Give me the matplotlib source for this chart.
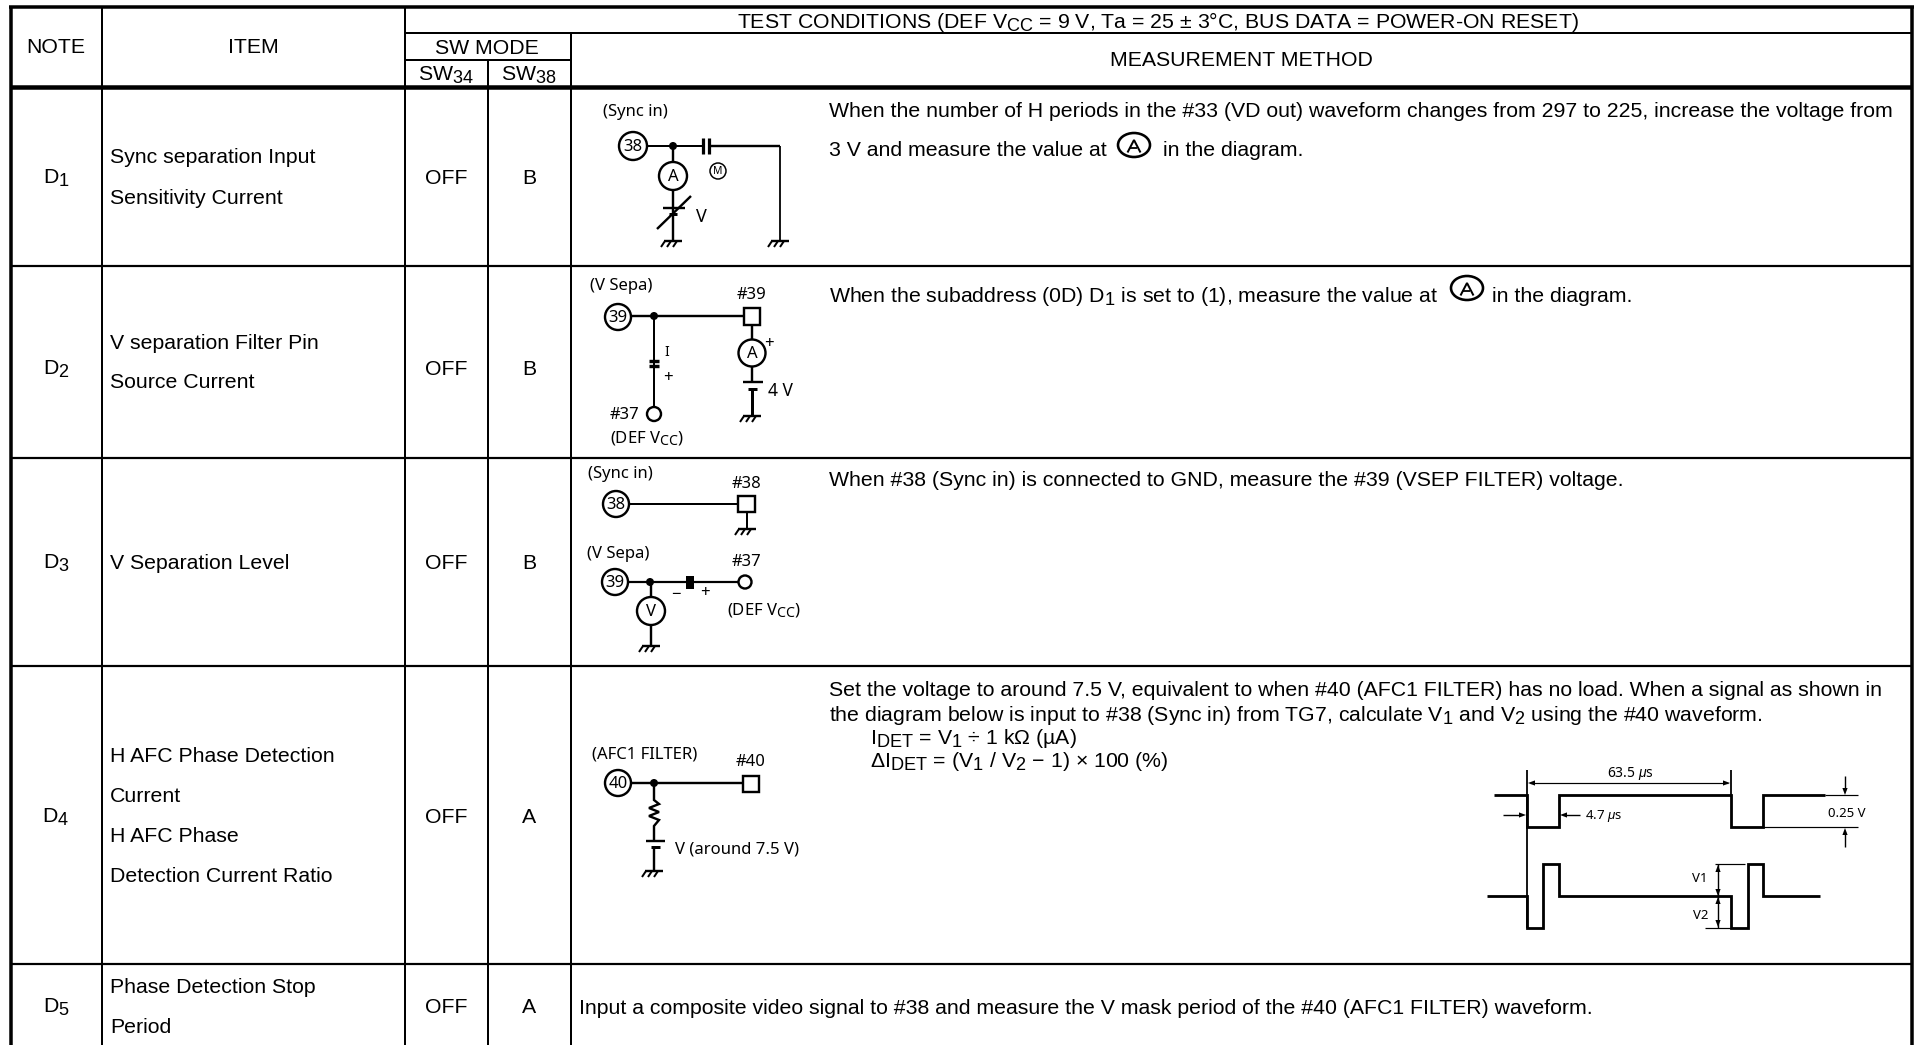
import matplotlib
matplotlib.use("Agg")
import matplotlib.pyplot as plt
from matplotlib.patches import Circle, Rectangle, Polygon, Ellipse
import matplotlib._mathtext as _mt

plt.rcParams['font.family'] = ['Liberation Sans', 'DejaVu Sans']
plt.rcParams['mathtext.fontset'] = 'custom'
plt.rcParams['mathtext.rm'] = 'Liberation Sans'
plt.rcParams['mathtext.it'] = 'Liberation Sans:italic'
plt.rcParams['mathtext.bf'] = 'Liberation Sans'
plt.rcParams['mathtext.default'] = 'regular'
_mt.SHRINK_FACTOR = 0.85   # the page sets its subscripts large
_mt.FontConstantsBase.subdrop = 0.65   # and low

# ---- table content ----
notes = ["D$_{1}$", "D$_{2}$", "D$_{3}$", "D$_{4}$", "D$_{5}$"]
items = [["Sync separation Input", "Sensitivity Current"],
         ["V separation Filter Pin", "Source Current"],
         ["V Separation Level"],
         ["H AFC Phase Detection", "Current", "H AFC Phase", "Detection Current Ratio"],
         ["Phase Detection Stop", "Period"]]
sw34 = ["OFF", "OFF", "OFF", "OFF", "OFF"]
sw38 = ["B", "B", "B", "A", "A"]
title = "TEST CONDITIONS (DEF V$_{CC}$ = 9 V, Ta = 25 ± 3°C, BUS DATA = POWER-ON RESET)"

# ---- layout (pixels of the page) ----
col_x = [11, 102, 405, 488, 571, 1912]
row_y = [7, 33, 60, 87, 266, 458, 666, 964, 1045]
row_mid = [177, 368, 562, 816, 1006]
item_y = [[156, 197], [342, 381], [562], [755, 795, 835, 875], [986, 1026]]

W, H = 1916, 1045
fig = plt.figure(figsize=(W / 100, H / 100), dpi=100, facecolor='white')
ax = fig.add_axes([0, 0, 1, 1])
ax.set_xlim(0, W)
ax.set_ylim(H, 0)
ax.axis('off')

FS = 15.33


def px(w):
    return w * 0.72


def ln(xs, ys, w=2.0, color='black', cap='butt', join='miter'):
    ax.plot(xs, ys, color=color, lw=px(w), solid_capstyle=cap, solid_joinstyle=join, zorder=3)


def txt(x, y, s, ha='left', fs=FS, family=None):
    kw = {}
    if family:
        kw['family'] = family
    ax.text(x, y + 0.45 * fs, s, ha=ha, va='baseline', fontsize=fs, color='black', zorder=5, **kw)


def ring(x, y, r, label=None, w=2.4, fs=12):
    ax.add_patch(Circle((x, y), r, fc='white', ec='black', lw=px(w), zorder=4))
    if label:
        txt(x, y, label, ha='center', fs=fs, family='Noto Sans')


def dot(x, y, r=3.5):
    ax.add_patch(Circle((x, y), r, fc='black', ec='none', zorder=4))


def ground(x, y):
    ln([x - 9, x + 9], [y, y], 2.4)
    for dx in (-8, -2, 4):
        ln([x + dx, x + dx - 4], [y, y + 6], 2)


def square(x0, y0, x1, y1):
    ax.add_patch(Rectangle((x0, y0), x1 - x0, y1 - y0, fc='white', ec='black', lw=px(2.4), zorder=4))


def arrow(x, y, dx, dy, size=7, half=2.6):
    """Solid arrow head with its tip at x, y, pointing along dx, dy."""
    ax.add_patch(Polygon([(x, y), (x - dx * size - dy * half, y - dy * size - dx * half),
                          (x - dx * size + dy * half, y - dy * size + dx * half)],
                         fc='black', ec='none', zorder=4))


def ctext(x, y, s, ha='left', fs=12):
    txt(x, y, s, ha=ha, fs=fs, family='Noto Sans')


def circled_a(x, y):
    ax.add_patch(Ellipse((x, y), 32, 24, fc='none', ec='black', lw=px(2.6), zorder=4))
    ln([x - 6.5, x, x + 6.5], [y + 7.5, y - 5, y + 7.5], 2)
    ln([x - 3.5, x + 3.5], [y + 3, y + 3], 1.8)


# ---- grid ----
ln([col_x[0] - 2, col_x[-1] + 2], [row_y[0]] * 2, 3.5)
ln([col_x[2], col_x[-1]], [row_y[1]] * 2, 2)
ln([col_x[2], col_x[4]], [row_y[2]] * 2, 2)
ln([col_x[0], col_x[-1]], [row_y[3]] * 2, 4.5)
for y in row_y[4:-1]:
    ln([col_x[0], col_x[-1]], [y, y], 2.2)
ln([col_x[0]] * 2, [row_y[0], H], 3.5)
ln([col_x[-1]] * 2, [row_y[0], H], 3.5)
ln([col_x[1]] * 2, [row_y[0], H], 2)
ln([col_x[2]] * 2, [row_y[0], H], 2)
ln([col_x[3]] * 2, [row_y[2], H], 2)
ln([col_x[4]] * 2, [row_y[1], H], 2)

# ---- header ----
txt(1158, 21, title, ha='center')
txt(56, 46, "NOTE", ha='center')
txt(253, 46, "ITEM", ha='center')
txt(487, 47, "SW MODE", ha='center')
txt(1241, 59, "MEASUREMENT METHOD", ha='center')
txt(446, 74, "SW$_{34}$", ha='center')
txt(529, 74, "SW$_{38}$", ha='center')

# ---- body cells ----
for i in range(5):
    txt(56, row_mid[i], notes[i], ha='center')
    txt(446, row_mid[i], sw34[i], ha='center')
    txt(529, row_mid[i], sw38[i], ha='center')
    for y, s in zip(item_y[i], items[i]):
        txt(110, y, s)

# ---- method text ----
MX = 829
txt(MX, 110, "When the number of H periods in the #33 (VD out) waveform changes from 297 to 225, increase the voltage from")
txt(MX, 149, "3 V and measure the value at")
circled_a(1134, 145)
txt(1163, 149, "in the diagram.")
txt(MX, 295, "When the subaddress (0D) D$_{1}$ is set to (1), measure the value at")
circled_a(1467, 288)
txt(1492, 295, "in the diagram.")
txt(MX, 479, "When #38 (Sync in) is connected to GND, measure the #39 (VSEP FILTER) voltage.")
txt(MX, 689, "Set the voltage to around 7.5 V, equivalent to when #40 (AFC1 FILTER) has no load. When a signal as shown in")
txt(MX, 714, "the diagram below is input to #38 (Sync in) from TG7, calculate V$_{1}$ and V$_{2}$ using the #40 waveform.")
txt(870, 737, "I$_{DET}$ = V$_{1}$ ÷ 1 kΩ (µA)")
txt(870, 760, "ΔI$_{DET}$ = (V$_{1}$ / V$_{2}$ − 1) × 100 (%)")
txt(579, 1007, "Input a composite video signal to #38 and measure the V mask period of the #40 (AFC1 FILTER) waveform.")

# ---- D1 circuit ----
ctext(603, 111, "(Sync in)")
ring(633, 146, 14, "38")
ln([647, 703], [146, 146])
dot(673, 146, 4)
ln([710, 780], [146, 146], 2.4)
ln([780, 780], [146, 240], 1.8)
ln([703.5, 703.5], [138, 154], 3.2)
ln([709.5, 709.5], [138, 154], 3.2)
ln([673, 673], [146, 162], 2.4)
ring(673, 176, 14, "A")
ln([673, 673], [190, 240], 2.4)
ln([663, 685], [208, 208], 2.4)
ln([669, 677], [214, 214], 3)
ln([657, 691], [229, 196], 2.4)
arrow(692, 195, 0.7, -0.7)
ctext(696, 216, "V", fs=13)
ground(673, 241)
ground(780, 241)
ring(718, 171, 8, "M", w=1.5, fs=7.5)

# ---- D2 circuit ----
ctext(590, 285, "(V Sepa)")
ring(618, 317, 13, "39")
ln([631, 744], [316, 316], 2.4)
dot(654, 316, 4)
square(744, 308, 760, 325)
ctext(737, 294, "#39")
ln([752, 752], [325, 340], 2.4)
ring(752, 353, 13.5, "A")
ln([752, 752], [367, 382], 2.4)
ln([743, 763], [382, 382], 2.4)
ln([748, 757], [389, 389], 3)
ln([752, 752], [389, 415], 3)
ground(752, 416)
ctext(764, 343, "+", fs=12)
ctext(768, 390, "4 V", fs=12.5)
ln([654, 654], [316, 406], 2)
ln([649, 659], [361, 361], 3.4)
ln([649, 659], [365.5, 365.5], 3.4)
ctext(664, 351, "I", fs=10)
ctext(663, 377, "+", fs=12)
ring(654, 414, 7, w=2.4)
ctext(610, 414, "#37")
ctext(610, 438, "(DEF V$_{CC}$)")

# ---- D3 circuit ----
ctext(588, 473, "(Sync in)")
ring(616, 504, 13, "38")
ln([629, 738], [504, 504], 2)
square(738, 496, 755, 512)
ctext(732, 483, "#38")
ln([747, 747], [512, 528], 2)
ground(747, 529)
ctext(587, 553, "(V Sepa)")
ring(615, 582, 13, "39")
ln([628, 738], [582, 582], 2.2)
dot(650, 582, 4)
ax.add_patch(Rectangle((686, 576), 8, 13, fc='black', ec='none', zorder=4))
ring(745, 582, 6.5, w=2.4)
ctext(732, 561, "#37")
ctext(671, 594, "−", fs=12)
ctext(700, 592, "+", fs=12)
ctext(727, 610, "(DEF V$_{CC}$)")
ln([651, 651], [582, 645], 2.4)
ring(651, 611, 14, "V")
ground(651, 646)

# ---- D4 circuit ----
ctext(592, 753, "(AFC1 FILTER)")
ring(618, 783, 13, "40")
ln([631, 743], [783, 783], 2.4)
dot(654, 783, 4)
square(743, 776, 759, 792)
ctext(736, 761, "#40")
ln([654, 654, 659, 649, 659, 649, 659, 654, 654],
   [783, 800, 804, 808, 812, 816, 820, 826, 841], 2.4)
ln([646, 665], [841, 841], 2.4)
ln([651, 660], [847, 847], 3)
ln([654, 654], [847, 870], 2.4)
ground(654, 871)
ctext(675, 848, "V (around 7.5 V)")

# ---- waveforms ----
ln([1494, 1527, 1527, 1559, 1559, 1731, 1731, 1763, 1763, 1825],
   [795, 795, 827, 827, 795, 795, 827, 827, 795, 795], 2.8)
ln([1527, 1527], [770, 928], 1.8)
ln([1731, 1731], [770, 795], 1.8)
ln([1530, 1728], [783, 783], 1.2)
arrow(1528, 783, -1, 0)
arrow(1730, 783, 1, 0)
ctext(1630, 773, r"63.5 $\mathit{\mu}$s", ha='center', fs=10)
ln([1503, 1520], [815, 815], 1.4)
arrow(1526, 815, 1, 0)
ln([1566, 1580], [815, 815], 1.4)
arrow(1560, 815, -1, 0)
ctext(1585, 815, r"4.7 $\mathit{\mu}$s", fs=9.5)
ln([1825, 1858], [795, 795], 1.2)
ln([1763, 1858], [827, 827], 1.2)
ctext(1847, 813, "0.25 V", ha='center', fs=9.5)
ln([1845, 1845], [776, 790], 1.4)
arrow(1845, 795, 0, 1)
ln([1845, 1845], [832, 847], 1.4)
arrow(1845, 828, 0, -1)

ln([1487, 1527, 1527, 1543, 1543, 1559, 1559, 1731, 1731, 1748, 1748, 1763, 1763, 1820],
   [896, 896, 928, 928, 864, 864, 896, 896, 928, 928, 864, 864, 896, 896], 2.8)
ln([1715, 1745], [864, 864], 1.2)
ln([1705, 1731], [928, 928], 1.2)
ln([1718, 1718], [864, 928], 1.4)
arrow(1718, 865, 0, -1)
arrow(1718, 896, 0, 1)
arrow(1718, 897, 0, -1)
arrow(1718, 927, 0, 1)
ctext(1700, 878, "V1", ha='center', fs=9.5)
ctext(1701, 915, "V2", ha='center', fs=9.5)

fig.savefig('out.png', dpi=100, facecolor='white')
